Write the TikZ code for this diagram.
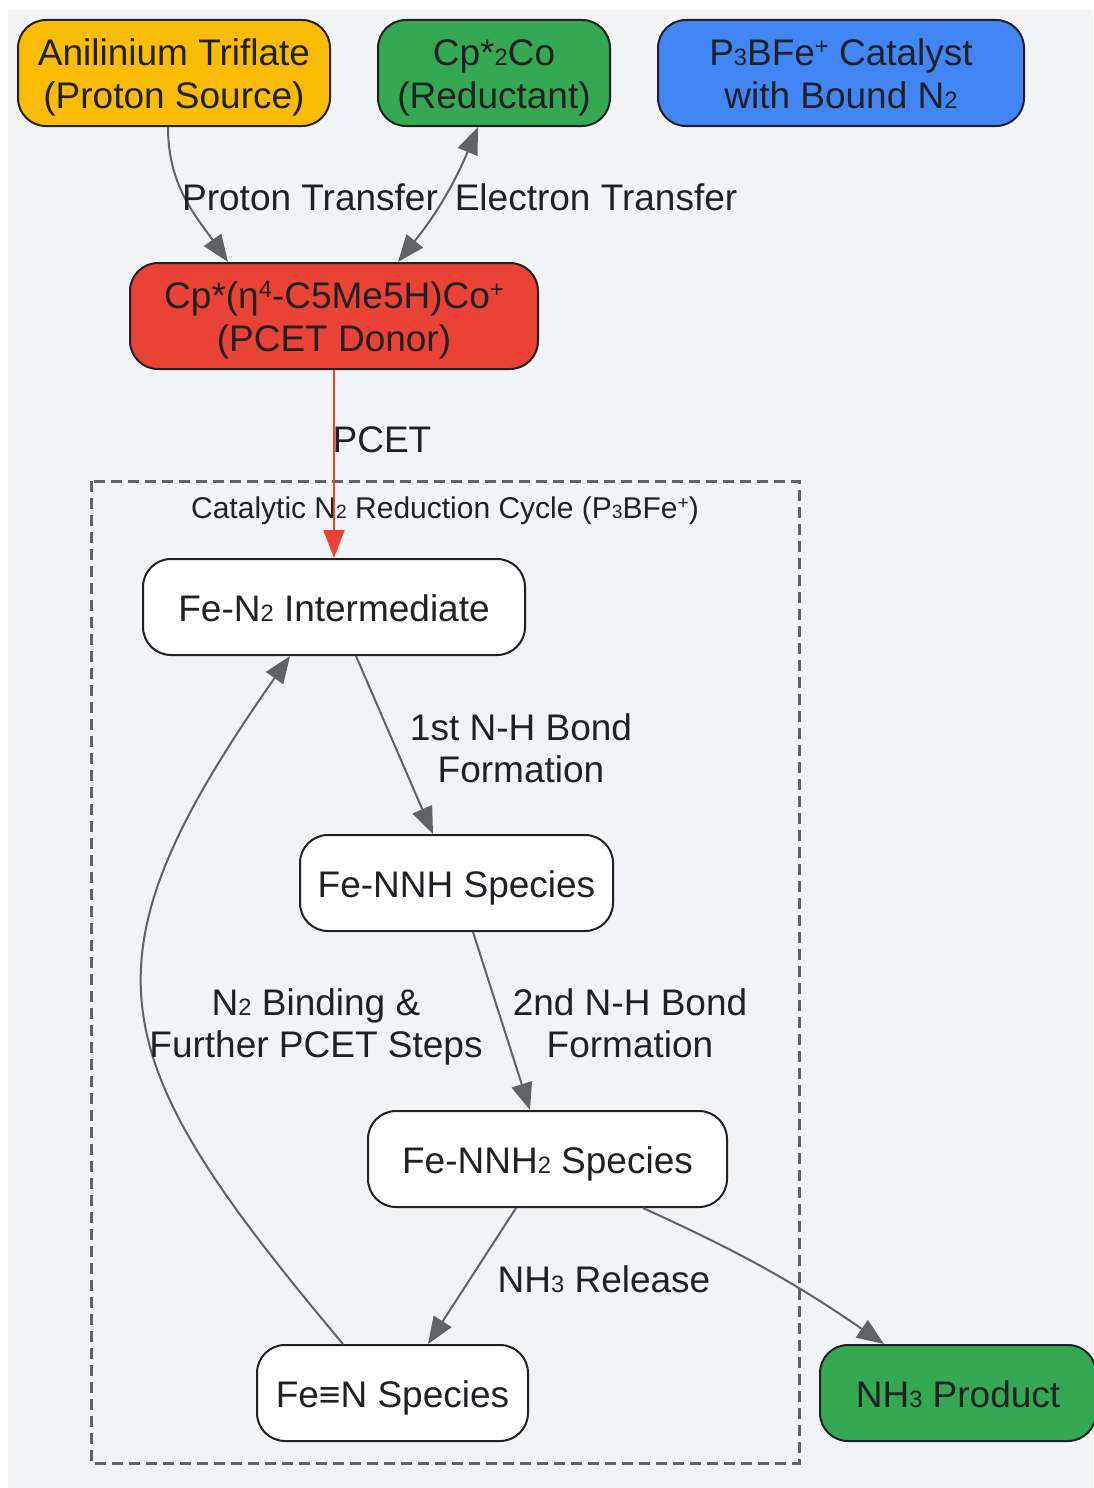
\documentclass[tikz,border=0pt]{standalone}
\usepackage{fontspec}
\setmainfont{Liberation Sans}
\usetikzlibrary{arrows.meta}
\usetikzlibrary{positioning}

\definecolor{ink}{HTML}{202124}
\definecolor{edgegray}{HTML}{5F6368}
\definecolor{canvas}{HTML}{F1F3F4}
\definecolor{gyellow}{HTML}{FBBC05}
\definecolor{ggreen}{HTML}{34A853}
\definecolor{gblue}{HTML}{4285F4}
\definecolor{gred}{HTML}{EA4335}

\newcommand\lo[1]{\scalebox{0.64}{#1}}
\newcommand\hi[1]{\raisebox{0.3em}{\scalebox{0.64}{#1}}}
\newcommand\tp{\rule{0pt}{37pt}}
\newcommand\bt{\rule[-9pt]{0pt}{9pt}}

\begin{document}
\begin{tikzpicture} [x=1pt,y=1pt,
  box/.style={draw=ink,line width=2pt,rounded corners=28pt,align=center,inner sep=0pt,
    text=ink,font=\fontsize{37}{43}\selectfont},
  lbl/.style={align=center,text=ink,inner sep=0pt,font=\fontsize{37}{42}\selectfont},
  link/.style={draw=edgegray,line width=2pt,-{Triangle[length=27pt,width=21pt]}}]
\useasboundingbox (0,0) rectangle (1093,-1488);
\fill[white] (0,0) rectangle (1093,-1488);
\fill[canvas] (8,-10) rectangle (1093,-1488);

% cycle frame
\draw[edgegray,line width=3pt,dash pattern=on 11pt off 6pt] (91,-481) rectangle (799,-1463);
\node (title) [lbl,font=\fontsize{30}{34}\selectfont] at (445,-511) {Catalytic N\lo{2} Reduction Cycle (P\lo{3}BFe\hi{+})};

\node (prot) [box,fill=gyellow,minimum width=312pt,minimum height=106pt] at (174,-73) {\tp Anilinium Triflate\\(Proton Source)\bt};
\node (red) [box,fill=ggreen,minimum width=232pt,minimum height=106pt] at (494,-73) {\tp Cp*\lo{2}Co\\(Reductant)\bt};
\node (cat) [box,fill=gblue,minimum width=366pt,minimum height=106pt] at (841,-73) {\tp P\lo{3}BFe\hi{+} Catalyst\\with Bound N\lo{2}\bt};
\node (donor) [box,fill=gred,minimum width=408pt,minimum height=106pt] at (334,-316) {\tp Cp*(η\hi{4}-C5Me5H)Co\hi{+}\\(PCET Donor)\bt};

\node (n2) [box,fill=white,minimum width=382pt,minimum height=96pt] at (334,-607) {\tp Fe-N\lo{2} Intermediate\bt};
\node (nnh) [box,fill=white,minimum width=313pt,minimum height=96pt] at (456.5,-883) {\tp Fe-NNH Species\bt};
\node (nnh2) [box,fill=white,minimum width=359pt,minimum height=96pt] at (547.5,-1159) {\tp Fe-NNH\lo{2} Species\bt};
\node (fen) [box,fill=white,minimum width=271pt,minimum height=96pt] at (392.5,-1393) {\tp Fe≡N Species\bt};
\node (nh3) [box,fill=ggreen,minimum width=276pt,minimum height=96pt] at (958,-1393) {\tp NH\lo{3} Product\bt};

\draw[link] ([xshift=-6pt]prot.south) to[out=-90,in=125] ([xshift=-106pt]donor.north);
\draw[link,{Triangle[length=27pt,width=21pt]}-{Triangle[length=27pt,width=21pt]}] ([xshift=-16pt]red.south) to[bend left=8] ([xshift=64pt]donor.north);
\draw[link,draw=gred,-{Triangle[length=28pt,width=21pt]},fill=gred] (donor.south) -- (n2.north);
\draw[link] ([xshift=22pt]n2.south) -- ([xshift=-23.5pt]nnh.north);
\draw[link] ([xshift=16.5pt]nnh.south) -- ([xshift=-17.5pt]nnh2.north);
\draw[link] ([xshift=-31.5pt]nnh2.south) -- ([xshift=35.5pt]fen.north);
\draw[link] ([xshift=95.5pt]nnh2.south) to[bend left=5] ([xshift=-74pt]nh3.north);
\draw[link] ([xshift=-49.5pt]fen.north) to[out=130,in=-125,looseness=1.4] ([xshift=-44pt]n2.south);

\node (lprot) [lbl] at (310,-197) {Proton Transfer};
\node (lel) [lbl] at (596,-197) {Electron Transfer};
\node (lpcet) [lbl] at (382,-440) {PCET};
\node (lnh1) [lbl] at (521,-748) {1st N-H Bond\\Formation};
\node (lnh2) [lbl] at (630,-1023) {2nd N-H Bond\\Formation};
\node (lrel) [lbl] at (604,-1279) {NH\lo{3} Release};
\node (lbind) [lbl] at (316,-1027) {N\lo{2} Binding \&\\Further PCET Steps};
\end{tikzpicture}
\end{document}
